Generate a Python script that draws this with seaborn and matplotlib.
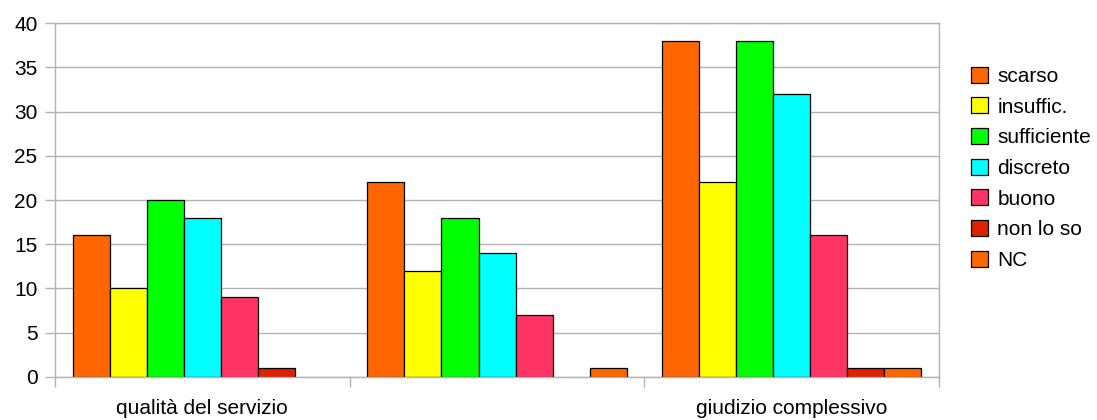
import numpy as np
import pandas as pd
import seaborn as sns
import matplotlib.pyplot as plt
import matplotlib.patches as mpatches
from matplotlib.ticker import FixedLocator

categorie = ["qualità del servizio", "", "giudizio complessivo"]
risposte = ["scarso", "insuffic.", "sufficiente", "discreto", "buono", "non lo so", "NC"]
colori = ["#ff6600", "#ffff00", "#00ff00", "#00ffff", "#ff3366", "#dd2200", "#ff6600"]

scarso = [16, 22, 38]
insuffic = [10, 12, 22]
sufficiente = [20, 18, 38]
discreto = [18, 14, 32]
buono = [9, 7, 16]
non_lo_so = [1, np.nan, 1]
nc = [np.nan, 1, 1]

serie = [scarso, insuffic, sufficiente, discreto, buono, non_lo_so, nc]

rows = []
for nome, valori in zip(risposte, serie):
    for cat, v in zip(categorie, valori):
        rows.append({"categoria": cat, "risposta": nome, "valore": v})
df = pd.DataFrame(rows)
df["categoria"] = pd.Categorical(df["categoria"], categories=categorie, ordered=True)

sns.set_style("white")
plt.rcParams["font.family"] = ["Liberation Sans", "DejaVu Sans"]
plt.rcParams["text.color"] = "black"
plt.rcParams["xtick.labelcolor"] = "black"
plt.rcParams["ytick.labelcolor"] = "black"

fig = plt.figure(figsize=(10.97, 4.2), dpi=100)
ax = fig.add_axes([0.0501, 0.1024, 0.806, 0.8428])

palette = dict(zip(risposte, colori))
sns.barplot(data=df.dropna(), x="categoria", y="valore", hue="risposta",
            order=categorie, hue_order=risposte, palette=palette,
            saturation=1, width=0.88, edgecolor="black", linewidth=0.9,
            errorbar=None, legend=False, ax=ax)

grigio = "#b3b3b3"
ax.set_ylim(0, 40)
ax.set_xlim(-0.5, 2.5)
ax.set_yticks(range(0, 41, 5))
ax.yaxis.grid(True, color=grigio, linewidth=1)
ax.set_axisbelow(True)
for s in ax.spines.values():
    s.set_color(grigio)
    s.set_linewidth(1)
    s.set_visible(True)

ax.tick_params(axis="y", length=7, color=grigio, width=1, labelsize=15, pad=5.5,
               left=True, labelcolor="black")
ax.tick_params(axis="x", which="major", length=0, labelsize=15, pad=16, labelcolor="black")
ax.xaxis.set_minor_locator(FixedLocator([-0.5, 0.5, 1.5, 2.5]))
ax.tick_params(axis="x", which="minor", length=7.5, color=grigio, width=1, bottom=True)
ax.set_xlabel("")
ax.set_ylabel("")

handles = [mpatches.Patch(facecolor=c, edgecolor="black", linewidth=0.9, label=r)
           for r, c in zip(risposte, colori)]
leg = ax.legend(handles=handles, loc="upper left", bbox_to_anchor=(0.876, 0.866),
                bbox_transform=fig.transFigure, frameon=False, fontsize=15,
                handlelength=0.8, handleheight=0.8, labelspacing=0.55,
                handletextpad=0.45, borderpad=0)
for t in leg.get_texts():
    t.set_color("black")

fig.savefig("out.png", dpi=100)
